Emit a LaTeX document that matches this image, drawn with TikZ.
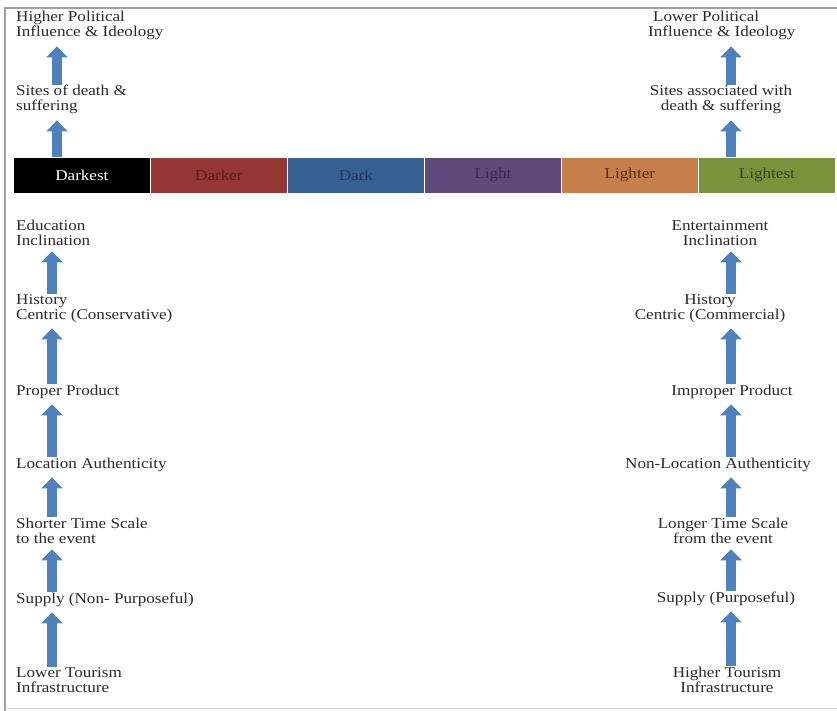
\documentclass[tikz,border=0pt]{standalone}
\usepackage{fontspec}
\setmainfont{Liberation Serif}[FakeStretch=1.14]
\usepackage{xcolor}
\usepackage{tikz}
\usetikzlibrary{positioning, arrows.meta}

\definecolor{arrblue}{HTML}{4F81BD}
\definecolor{txtgray}{HTML}{2A2A2A}
\definecolor{framegray}{HTML}{A0A0A0}
\definecolor{segred}{HTML}{953735}
\definecolor{segblue}{HTML}{376092}
\definecolor{segpurple}{HTML}{604A7B}
\definecolor{segorange}{HTML}{C67E4A}
\definecolor{seggreen}{HTML}{77933C}
\definecolor{txtred}{HTML}{5E1C1C}
\definecolor{txtblue}{HTML}{1F3864}
\definecolor{txtpurple}{HTML}{3A2A58}
\definecolor{txtorange}{HTML}{5A3012}
\definecolor{txtgreen}{HTML}{36451A}

\begin{document}
\begin{tikzpicture}[x=1pt,y=-1pt,
  lbl/.style={inner sep=0pt, text=txtgray, font=\fontsize{15}{15}\selectfont},
  lblL/.style={lbl, align=left, anchor=base west},
  lblC/.style={lbl, align=center, anchor=base},
  seg/.style={draw=white, line width=0.8pt, minimum width=137pt, minimum height=36pt,
    anchor=north west, inner sep=0pt, font=\fontsize{15}{15}\selectfont},
  uparr/.style={draw=arrblue, line width=10pt, -{Triangle[width=21pt,length=11pt]}, shorten >=6pt}]
  \useasboundingbox (0,0) rectangle (837,711);
  \draw[framegray, line width=1.2pt] (5,711) -- (5,8) -- (837,8);
  \draw[framegray!45, line width=0.8pt] (5,708) -- (837,708);

  \foreach \nm/\txt/\fc/\tc/\ry [count=\i] in {
      darkest/Darkest/black/white/0, darker/Darker/segred/txtred/-1,
      dark/Dark/segblue/txtblue/0, light/Light/segpurple/txtpurple/5,
      lighter/Lighter/segorange/txtorange/0, lightest/Lightest/seggreen/txtgreen/0}
    \node[seg, fill=\fc, text=\tc] (\nm) at ({13+137*(\i-1)},157) {\raisebox{\ry pt}{\txt}};

  \coordinate (lcolA) at (57,0);
  \coordinate (lcolB) at (52,0);
  \coordinate (rcol) at (731,0);

  \node[lblL] (highpol) at (16,37) {Higher Political\\Influence \& Ideology};
  \node[lblL] (sitesL) at (16,111) {Sites of death \&\\suffering};
  \node[lblL] (educ) at (16,245) {Education\\Inclination};
  \node[lblL] (histL) at (16,319) {History\\Centric (Conservative)};
  \node[lblL] (proper) at (16,395) {Proper Product};
  \node[lblL] (locL) at (16,468) {Location Authenticity};
  \node[lblL] (shorter) at (16,543) {Shorter Time Scale\\to the event};
  \node[lblL] (supplyL) at (16,603) {Supply (Non- Purposeful)};
  \node[lblL] (lowtour) at (16,692) {Lower Tourism\\Infrastructure};

  \node[lblL] (lowpol) at (648,37) {\hspace*{5pt}Lower Political\\Influence \& Ideology};
  \node[lblC] (sitesR) at (721,111) {Sites associated with\\death \& suffering};
  \node[lblC] (entert) at (720,245) {Entertainment\\Inclination};
  \node[lblC] (histR) at (710,319) {History\\Centric (Commercial)};
  \node[lblC] (improper) at (732,395) {Improper Product};
  \node[lblC] (locR) at (718,468) {Non-Location Authenticity};
  \node[lblC] (longer) at (723,543) {Longer Time Scale\\from the event};
  \node[lblC] (supplyR) at (726,602) {Supply (Purposeful)};
  \node[lblC] (hightour) at (727,692) {Higher Tourism\\Infrastructure};

  \draw[uparr] (sitesL.north -| lcolA) -- (highpol.south -| lcolA);
  \draw[uparr] (darkest.north -| lcolA) -- (sitesL.south -| lcolA);
  \draw[uparr] (histL.north -| lcolB) -- (educ.south -| lcolB);
  \draw[uparr] (proper.north -| lcolB) -- (histL.south -| lcolB);
  \draw[uparr] (locL.north -| lcolB) -- (proper.south -| lcolB);
  \draw[uparr] (shorter.north -| lcolB) -- (locL.south -| lcolB);
  \draw[uparr] (supplyL.north -| lcolB) -- (shorter.south -| lcolB);
  \draw[uparr] (lowtour.north -| lcolB) -- (supplyL.south -| lcolB);

  \draw[uparr] (sitesR.north -| rcol) -- (lowpol.south -| rcol);
  \draw[uparr] (lightest.north -| rcol) -- (sitesR.south -| rcol);
  \draw[uparr] (histR.north -| rcol) -- (entert.south -| rcol);
  \draw[uparr] (improper.north -| rcol) -- (histR.south -| rcol);
  \draw[uparr] (locR.north -| rcol) -- (improper.south -| rcol);
  \draw[uparr] (longer.north -| rcol) -- (locR.south -| rcol);
  \draw[uparr] (supplyR.north -| rcol) -- (longer.south -| rcol);
  \draw[uparr] (hightour.north -| rcol) -- (supplyR.south -| rcol);
\end{tikzpicture}
\end{document}
